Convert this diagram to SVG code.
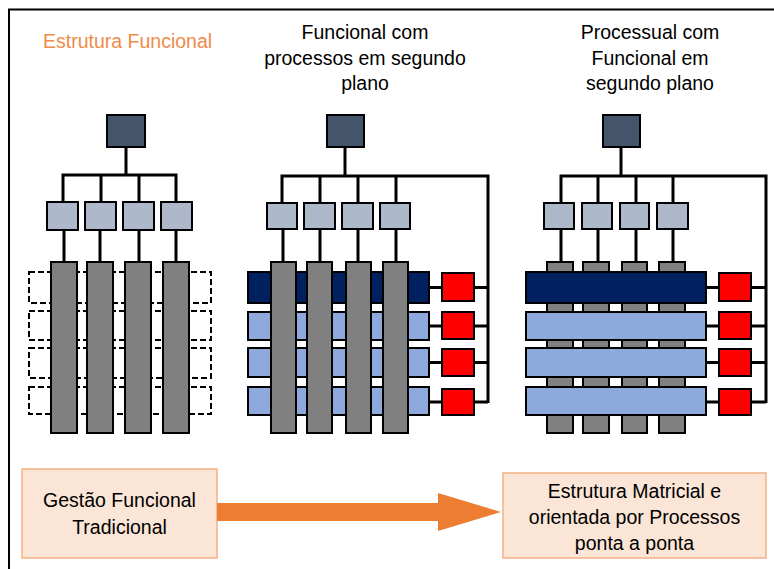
<svg xmlns="http://www.w3.org/2000/svg" width="774" height="569" viewBox="0 0 774 569">
<style>
.t{font-family:"Liberation Sans",Arial,sans-serif;font-size:19.5px;fill:#000;text-anchor:middle}
.ti{font-family:"Liberation Sans",Arial,sans-serif;font-size:19.5px;fill:#F08A4B}
.top{fill:#44546A;stroke:#000;stroke-width:2}
.sm{fill:#ADB9CA;stroke:#000;stroke-width:2}
.gb{fill:#808080;stroke:#000;stroke-width:2}
.nv{fill:#002060;stroke:#000;stroke-width:2}
.lb{fill:#8EA9DB;stroke:#000;stroke-width:2}
.rd{fill:#FF0000;stroke:#000;stroke-width:2}
.ds{fill:none;stroke:#000;stroke-width:2;stroke-dasharray:6 3}
.ln{fill:none;stroke:#000;stroke-width:3}
.ob{fill:#FBE5D6;stroke:#F4B183;stroke-width:1.5}
</style>
<rect width="774" height="569" fill="#fff"/>
<path d="M9 569V9.5H774" fill="none" stroke="#000" stroke-width="2"/>

<g id="titles">
<text class="ti" x="43" y="48">Estrutura Funcional</text>
<text class="t" x="365" y="39">Funcional com</text>
<text class="t" x="365" y="65">processos em segundo</text>
<text class="t" x="365" y="90">plano</text>
<text class="t" x="650" y="39">Processual com</text>
<text class="t" x="650" y="65">Funcional em</text>
<text class="t" x="650" y="90">segundo plano</text>
</g>

<g id="connectors">
<path class="ln" d="M126 147V175M63 202V175H176V202M101 175V202M139 175V202"/>
<path class="ln" d="M64 230V262M100 230V262M139 230V262M176 230V262"/>
<path class="ln" d="M345 147V176M282 203V176H488V403M320 176V203M358 176V203M396 176V203"/>
<path class="ln" d="M283 229V262M320 229V262M358 229V262M396 229V262"/>
<path class="ln" d="M429 287.5H442M474 287.5H488M429 326H442M474 326H488M429 362.5H442M474 362.5H488M429 402H442M474 402H488"/>
<path class="ln" d="M621 147V176M561 203V176H766V403M598 176V203M636 176V203M673 176V203"/>
<path class="ln" d="M561 229V262M598 229V262M636 229V262M673 229V262"/>
<path class="ln" d="M706 287.5H719M751 287.5H766M706 326H719M751 326H766M706 362.5H719M751 362.5H766M706 402H719M751 402H766"/>
</g>

<g id="diagram1">
<rect class="top" x="107" y="115" width="38" height="32"/>
<rect class="sm" x="47" y="202" width="31" height="28"/>
<rect class="sm" x="85" y="202" width="31" height="28"/>
<rect class="sm" x="123" y="202" width="31" height="28"/>
<rect class="sm" x="161" y="202" width="31" height="28"/>
<rect class="ds" x="29" y="272" width="182" height="31"/>
<rect class="ds" x="29" y="311" width="182" height="29"/>
<rect class="ds" x="29" y="348" width="182" height="30"/>
<rect class="ds" x="29" y="387" width="182" height="27"/>
<rect class="gb" x="51" y="262" width="26" height="171"/>
<rect class="gb" x="87" y="262" width="26" height="171"/>
<rect class="gb" x="125" y="262" width="26" height="171"/>
<rect class="gb" x="163" y="262" width="26" height="171"/>
</g>

<g id="diagram2">
<rect class="top" x="327" y="115" width="37" height="32"/>
<rect class="sm" x="267" y="203" width="30" height="26"/>
<rect class="sm" x="304" y="203" width="31" height="26"/>
<rect class="sm" x="342" y="203" width="31" height="26"/>
<rect class="sm" x="380" y="203" width="30" height="26"/>
<rect class="nv" x="248" y="272" width="181" height="31"/>
<rect class="lb" x="248" y="312" width="181" height="28"/>
<rect class="lb" x="248" y="348" width="181" height="29"/>
<rect class="lb" x="248" y="387" width="181" height="28"/>
<rect class="gb" x="271" y="262" width="25" height="171"/>
<rect class="gb" x="307" y="262" width="25" height="171"/>
<rect class="gb" x="346" y="262" width="25" height="171"/>
<rect class="gb" x="383" y="262" width="25" height="171"/>
<rect class="rd" x="442" y="273" width="32" height="28"/>
<rect class="rd" x="442" y="312" width="32" height="27"/>
<rect class="rd" x="442" y="349" width="32" height="27"/>
<rect class="rd" x="442" y="389" width="32" height="26"/>
</g>

<g id="diagram3">
<rect class="top" x="603" y="115" width="37" height="32"/>
<rect class="sm" x="544" y="203" width="30" height="26"/>
<rect class="sm" x="582" y="203" width="30" height="26"/>
<rect class="sm" x="620" y="203" width="29" height="26"/>
<rect class="sm" x="657" y="203" width="31" height="26"/>
<rect class="gb" x="547" y="262" width="26" height="171"/>
<rect class="gb" x="583" y="262" width="26" height="171"/>
<rect class="gb" x="622" y="262" width="25" height="171"/>
<rect class="gb" x="659" y="262" width="26" height="171"/>
<rect class="nv" x="526" y="272" width="180" height="31"/>
<rect class="lb" x="526" y="312" width="180" height="28"/>
<rect class="lb" x="526" y="348" width="180" height="29"/>
<rect class="lb" x="526" y="387" width="180" height="28"/>
<rect class="rd" x="719" y="273" width="32" height="28"/>
<rect class="rd" x="719" y="312" width="32" height="27"/>
<rect class="rd" x="719" y="349" width="32" height="27"/>
<rect class="rd" x="719" y="389" width="32" height="26"/>
</g>

<g id="box-left">
<rect class="ob" x="22" y="469" width="195" height="89"/>
<text class="t" x="119.5" y="507">Gestão Funcional</text>
<text class="t" x="119.5" y="534">Tradicional</text>
</g>

<g id="arrow">
<polygon points="217,503 438,503 438,493 501,512 438,531 438,521 217,521" fill="#ED7D31"/>
</g>

<g id="box-right">
<rect class="ob" x="503" y="473" width="263" height="85"/>
<text class="t" x="634.5" y="498">Estrutura Matricial e</text>
<text class="t" x="634.5" y="524">orientada por Processos</text>
<text class="t" x="634.5" y="550">ponta a ponta</text>
</g>
</svg>
